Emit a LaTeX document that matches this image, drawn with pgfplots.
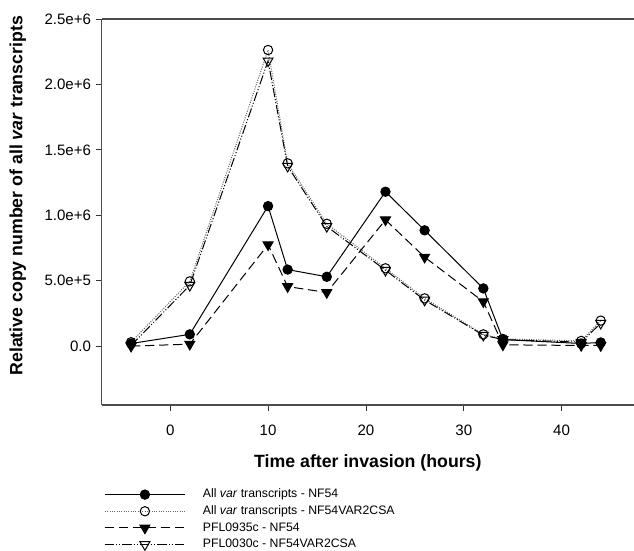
\documentclass[border=0pt]{standalone}
\usepackage{pgfplots}
\pgfplotsset{compat=1.18}
\usepackage{fontspec}
\setmainfont{Liberation Sans}
\begin{document}
\begin{tikzpicture}
\begin{axis}[
  scale only axis,
  width=399.2pt, height=289.5pt,
  xmin=-7, xmax=47.4,
  ymin=-450000, ymax=2500000,
  axis y line*=left,
  axis line style={line width=0.9pt, draw=black!70},
  tick align=outside,
  tick pos=left,
  major tick length=4.5pt,
  tick style={line width=0.6pt, draw=black!80},
  xtick={0,10,20,30,40},
  ytick={0,500000,1000000,1500000,2000000,2500000},
  yticklabels={0.0,5.0e+5,1.0e+6,1.5e+6,2.0e+6,2.5e+6},
  scaled y ticks=false,
  /pgf/number format/assume math mode=true,
  ticklabel style={font=\fontsize{11.3}{13}\selectfont},
  xticklabel shift=7pt,
  xlabel={Time after invasion (hours)},
  ylabel={Relative copy number of all \textit{var} transcripts},
  label style={font=\fontsize{13.3}{16}\selectfont\bfseries},
  xlabel style={at={(ticklabel cs:0.5,7pt)}},
  ylabel style={at={(ticklabel cs:0.542,7pt)}},
  legend cell align=left,
  legend style={
    at={(rel axis cs:0,0)}, anchor=north west, xshift=-1.2pt, yshift=-60.5pt,
    draw=none, fill=none,
    font=\fontsize{9.2}{11}\selectfont,
    nodes={inner sep=0pt, text height=7pt, text depth=2pt},
    row sep=3.5pt,
  },
  legend image code/.code={
    \path[draw=none] (0pt,0pt) -- (73.5pt,0pt);
    \draw[mark repeat=2, mark phase=2, #1] plot coordinates {(0pt,0pt) (30pt,0pt) (60pt,0pt)};
  },
]
\coordinate (axisSW) at (rel axis cs:0,0);

\addplot[black, line width=0.75pt, mark=*, mark size=3.5pt, mark options={solid, fill=black}]
coordinates {(-4,20000) (2,90000) (10,1070000) (12,585000) (16,530000) (22,1180000) (26,885000) (32,441000) (34,50000) (42,20000) (44,28000)};
\addlegendentry{All \textit{var} transcripts - NF54}

\addplot[black!60, line width=0.75pt, densely dotted, mark=o, mark size=3.5pt, mark options={solid, draw=black, fill=white}]
coordinates {(-4,30000) (2,495000) (10,2263000) (12,1397000) (16,935000) (22,595000) (26,365000) (32,90000) (34,55000) (42,40000) (44,195000)};
\addlegendentry{All \textit{var} transcripts - NF54VAR2CSA}

\addplot[black, line width=0.75pt, dash pattern=on 7pt off 3.5pt, mark=triangle*, mark size=4.3pt, mark options={solid, rotate=180, fill=black}]
coordinates {(-4,0) (2,15000) (10,775000) (12,455000) (16,410000) (22,965000) (26,680000) (32,340000) (34,10000) (42,5000) (44,5000)};
\addlegendentry{PFL0935c - NF54}

\addplot[black, line width=0.75pt, dash pattern=on 7pt off 1.5pt on 0.8pt off 1.5pt on 0.8pt off 1.5pt, mark=triangle, mark size=4.3pt, mark options={solid, rotate=180, draw=black, fill=white}]
coordinates {(-4,5000) (2,465000) (10,2180000) (12,1375000) (16,915000) (22,580000) (26,352000) (32,84000) (34,50000) (42,30000) (44,175000)};
\addlegendentry{PFL0030c - NF54VAR2CSA}
\end{axis}
\pgfresetboundingbox
\path (axisSW) ++(-76.3pt,-108.75pt) rectangle ++(475.5pt,412.5pt);
\end{tikzpicture}
\end{document}
